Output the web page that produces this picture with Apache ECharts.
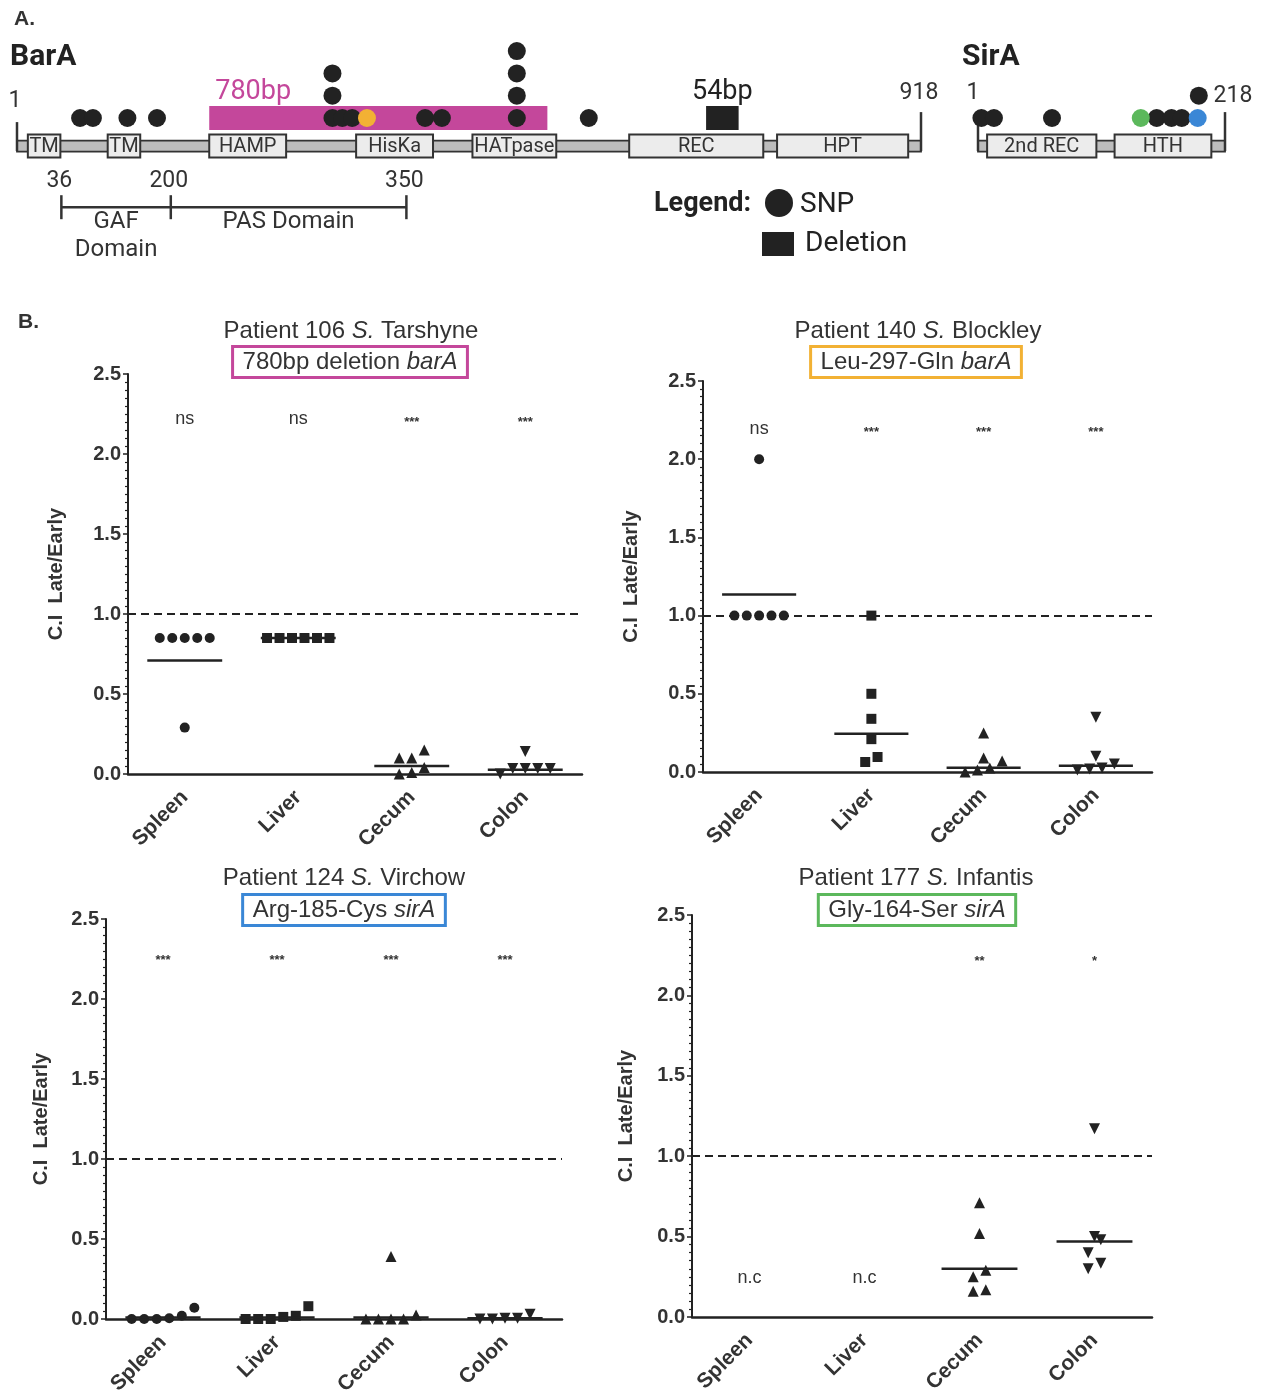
<!DOCTYPE html>
<html><head><meta charset="utf-8">
<script src="https://cdn.jsdelivr.net/npm/echarts@6/dist/echarts.min.js"></script>
<style>html,body{margin:0;padding:0;background:#fff}#c{width:1261px;height:1394px}</style>
</head><body><div id="c"></div>
<script>
// ================= Panel A data (schematic positions along each protein) =================
const barALength = 918;
const sirALength = 218;
const barABackbone = [[1, 918]];
const sirABackbone = [[1, 218]];
const barADomains = [[12, 45, 'TM'], [93, 126, 'TM'], [196, 274, 'HAMP'], [345, 423, 'HisKa'], [463, 548, 'HATpase'], [622, 758, 'REC'], [772, 905, 'HPT']];
const sirADomains = [[9, 105, '2nd REC'], [121, 206, 'HTH']];
// SNPs: [position, stack level]
const barASNPs = [[65, 0], [78, 0], [113, 0], [143, 0], [321, 0], [321, 1], [321, 2], [331, 0], [341, 0], [415, 0], [432, 0], [508, 0], [508, 1], [508, 2], [508, 3], [581, 0]];
const barASNP_Leu297Gln = [[356, 0]];
const sirASNPs = [[4, 0], [15, 0], [66, 0], [158, 0], [171, 0], [180, 0], [195, 1]];
const sirASNP_Gly164Ser = [[144, 0]];
const sirASNP_Arg185Cys = [[194, 0]];
const barADeletion780 = [[196, 539, '780bp']];
const barADeletion54 = [[700, 733, '54bp']];
const barABracketTicks = [[46, '36'], [157, '200'], [396, '350']];
const barABracketSpans = [[46, 157, 'GAF\nDomain'], [157, 396, 'PAS Domain']];

// ================= Panel B data =================
const organs = ['Spleen', 'Liver', 'Cecum', 'Colon'];
const yTicks = [0, 0.5, 1.0, 1.5, 2.0, 2.5];

const p106_spleen = [0.85, 0.85, 0.85, 0.85, 0.85, 0.29];
const p106_liver = [0.85, 0.85, 0.85, 0.85, 0.85, 0.85];
const p106_cecum = [0.10, 0.10, 0.15, 0.04, 0.00, 0.01];
const p106_colon = [0.035, 0.035, 0.00, 0.035, 0.035, 0.14];
const p106_mean = [0.71, 0.85, 0.05, 0.027];
const p106_sig = ['ns', 'ns', '***', '***'];

const p140_spleen = [1.0, 1.0, 1.0, 1.0, 1.0, 2.0];
const p140_liver = [1.0, 0.50, 0.34, 0.21, 0.096, 0.064];
const p140_cecum = [0.25, 0.09, 0.07, 0.026, 0.0, 0.013];
const p140_colon = [0.35, 0.10, 0.026, 0.013, 0.019, 0.051];
const p140_mean = [1.135, 0.245, 0.027, 0.04];
const p140_sig = ['ns', '***', '***', '***'];

const p124_spleen = [0.02, 0.0, 0.0, 0.0, 0.005, 0.07];
const p124_liver = [0.02, 0.0, 0.0, 0.0, 0.013, 0.08];
const p124_cecum = [0.025, 0.0, 0.0, 0.0, 0.0, 0.39];
const p124_colon = [0.03, 0.0, 0.0, 0.005, 0.005];
const p124_mean = [0.01, 0.01, 0.01, 0.005];
const p124_sig = ['***', '***', '***', '***'];

const p177_spleen = [];
const p177_liver = [];
const p177_cecum = [0.71, 0.52, 0.29, 0.25, 0.16, 0.17];
const p177_colon = [1.17, 0.50, 0.48, 0.40, 0.335, 0.30];
const p177_mean = [null, null, 0.30, 0.47];
const p177_sig = ['n.c', 'n.c', '**', '*'];

// ================= styling / layout =================
const FONT = '"Liberation Sans", Arial, sans-serif';
const AFONT = 'Roboto, "Liberation Sans", sans-serif';
const INK = '#222';
const TXT = '#333';
const MAGENTA = '#c4479b', ORANGE = '#f2b134', GREEN = '#5cb85c', BLUE = '#3a87d6';

const panels = [
  { grid: { left: 128, top: 374, width: 454, height: 400 }, groups: [p106_spleen, p106_liver, p106_cecum, p106_colon], mean: p106_mean, sig: p106_sig, sigY: [2.22, 2.22, 2.2, 2.2], nameGap: 62,
    t1: 'Patient 106 {i|S.} Tarshyne', t2: '780bp deletion {i|barA}', tx: 351, ty: 331, bx: 350, by: 362, color: MAGENTA },
  { grid: { left: 703, top: 381, width: 449, height: 391 }, groups: [p140_spleen, p140_liver, p140_cecum, p140_colon], mean: p140_mean, sig: p140_sig, sigY: [2.19, 2.17, 2.17, 2.17], nameGap: 62,
    t1: 'Patient 140 {i|S.} Blockley', t2: 'Leu-297-Gln {i|barA}', tx: 918, ty: 331, bx: 916, by: 362, color: ORANGE },
  { grid: { left: 106, top: 919, width: 456, height: 400 }, groups: [p124_spleen, p124_liver, p124_cecum, p124_colon], mean: p124_mean, sig: p124_sig, sigY: [2.24, 2.24, 2.24, 2.24], nameGap: 55,
    t1: 'Patient 124 {i|S.} Virchow', t2: 'Arg-185-Cys {i|sirA}', tx: 344, ty: 878, bx: 344, by: 910, color: BLUE },
  { grid: { left: 692, top: 915, width: 460, height: 402 }, groups: [p177_spleen, p177_liver, p177_cecum, p177_colon], mean: p177_mean, sig: p177_sig, sigY: [0.24, 0.24, 2.21, 2.21], nameGap: 56,
    t1: 'Patient 177 {i|S.} Infantis', t2: 'Gly-164-Ser {i|sirA}', tx: 916, ty: 878, bx: 917, by: 910, color: GREEN }
];

const symbols = [
  { symbol: 'circle', size: 10, rotate: 0 },
  { symbol: 'rect', size: 10, rotate: 0 },
  { symbol: 'triangle', size: 11, rotate: 0 },
  { symbol: 'triangle', size: 11, rotate: 180 }
];

// simple deterministic beeswarm: points with nearly equal values share a row, centered on the category
const ROW_TOL = 0.085, STEP = 0.11;
function swarm(vals, cat) {
  const idx = vals.map((v, i) => i).sort((a, b) => vals[a] - vals[b]);
  const rows = []; let cur = null;
  idx.forEach(i => {
    if (!cur || vals[i] - vals[cur[0]] > ROW_TOL) { cur = [i]; rows.push(cur); } else cur.push(i);
  });
  const out = [];
  rows.forEach(r => r.forEach((i, k) => out.push([cat + (k - (r.length - 1) / 2) * STEP, vals[i]])));
  return out;
}

const grids = [], xAxes = [], yAxes = [], series = [], graphics = [];

panels.forEach((p, pi) => {
  grids.push(Object.assign({ outerBoundsMode: 'none', containLabel: false }, p.grid));
  xAxes.push({
    type: 'category', gridIndex: pi, data: organs, boundaryGap: true,
    axisLine: { onZero: false, lineStyle: { color: INK, width: 2.5 } },
    axisTick: { alignWithLabel: true, length: 6, lineStyle: { color: INK, width: 2 } },
    axisLabel: { rotate: 45, margin: 20, color: TXT, fontFamily: FONT, fontWeight: 'bold', fontSize: 21 },
    splitLine: { show: false }
  });
  yAxes.push({
    type: 'value', gridIndex: pi, min: 0, max: 2.5, interval: 0.5,
    name: 'C.I  Late/Early', nameLocation: 'middle', nameRotate: 90, nameGap: p.nameGap,
    nameTextStyle: { color: TXT, fontFamily: FONT, fontWeight: 'bold', fontSize: 20 },
    axisLine: { show: true, onZero: false, lineStyle: { color: INK, width: 2 } },
    axisTick: { show: true, length: 5, lineStyle: { color: INK, width: 1.5 } },
    minorTick: { show: true, splitNumber: 10, length: 3, lineStyle: { color: INK, width: 1.2 } },
    axisLabel: { color: TXT, fontFamily: FONT, fontWeight: 'bold', fontSize: 20, margin: 7, formatter: v => yTicks.includes(v) ? v.toFixed(1) : '' },
    splitLine: { show: false }
  });
});
// hidden numeric x axes used for the jittered scatter points
panels.forEach((p, pi) => {
  xAxes.push({ type: 'value', gridIndex: pi, min: -0.5, max: 3.5, show: false, axisLine: { onZero: false } });
});

panels.forEach((p, pi) => {
  const xi = 4 + pi;
  series.push({
    type: 'scatter', xAxisIndex: xi, yAxisIndex: pi, data: [], silent: true,
    markLine: { symbol: 'none', silent: true, label: { show: false },
      lineStyle: { color: INK, width: 2, type: [8, 5] }, data: [{ yAxis: 1 }] }
  });
  p.groups.forEach((vals, gi) => {
    if (!vals.length) return;
    const s = symbols[gi];
    series.push({
      type: 'scatter', xAxisIndex: xi, yAxisIndex: pi, data: swarm(vals, gi),
      symbol: s.symbol, symbolSize: s.size, symbolRotate: s.rotate,
      itemStyle: { color: INK, opacity: 1 }, z: 4, silent: true
    });
  });
  series.push({
    type: 'custom', xAxisIndex: xi, yAxisIndex: pi, z: 5, silent: true,
    data: p.mean.map((m, i) => m == null ? null : [i, m]).filter(d => d),
    renderItem: (params, api) => {
      const c = api.value(0), v = api.value(1);
      const a = api.coord([c - 0.33, v]), b = api.coord([c + 0.33, v]);
      return { type: 'line', shape: { x1: a[0], y1: a[1], x2: b[0], y2: b[1] }, style: { stroke: INK, lineWidth: 2.5 } };
    }
  });
  series.push({
    type: 'custom', xAxisIndex: xi, yAxisIndex: pi, z: 5, silent: true,
    data: p.sig.map((t, i) => [i, p.sigY[i]]),
    renderItem: (params, api) => {
      const i = params.dataIndex;
      const t = p.sig[i];
      const pt = api.coord([api.value(0), api.value(1)]);
      const isStar = t.indexOf('*') >= 0;
      return { type: 'text', style: { text: t, x: pt[0], y: pt[1], textAlign: 'center', textVerticalAlign: 'middle',
        font: (isStar ? 'bold 13px ' : '18px ') + FONT, fill: TXT } };
    }
  });
  graphics.push({ type: 'text', silent: true, style: { text: p.t1, x: p.tx, y: p.ty, textAlign: 'center', textVerticalAlign: 'middle',
    font: '24px ' + FONT, fill: TXT, rich: { i: { fontStyle: 'italic', fontSize: 24, fontFamily: FONT, fill: TXT } } } });
  graphics.push({ type: 'text', silent: true, style: { text: p.t2, x: p.bx, y: p.by, textAlign: 'center', textVerticalAlign: 'middle',
    font: '24px ' + FONT, fill: TXT, borderColor: p.color, borderWidth: 3, padding: [4, 10, 3, 10],
    rich: { i: { fontStyle: 'italic', fontSize: 24, fontFamily: FONT, fill: TXT } } } });
});

// ================= Panel A: protein schematics =================
const BB_LEVEL = -1.26; // backbone row (SNP row = 0)
const aGrids = [
  { left: 17, top: 28.8, width: 904, height: 223, min: 1, max: barALength },
  { left: 978, top: 28.8, width: 247, height: 223, min: 1, max: sirALength }
];
aGrids.forEach((g, k) => {
  const gi = grids.length;
  grids.push({ outerBoundsMode: 'none', containLabel: false, left: g.left, top: g.top, width: g.width, height: g.height });
  xAxes.push({ type: 'value', gridIndex: gi, min: g.min, max: g.max, show: false });
  yAxes.push({ type: 'value', gridIndex: gi, min: -6, max: 4, show: false });
  g.xi = xAxes.length - 1; g.yi = yAxes.length - 1;
});

function backboneSeries(g, data, leftLabel, rightLabel) {
  return {
    type: 'custom', xAxisIndex: g.xi, yAxisIndex: g.yi, z: 1, silent: true, clip: false, data: data,
    renderItem: (params, api) => {
      const s = api.coord([api.value(0), BB_LEVEL]), e = api.coord([api.value(1), BB_LEVEL]);
      return { type: 'group', children: [
        { type: 'rect', shape: { x: s[0], y: s[1] - 5.5, width: e[0] - s[0], height: 11 }, style: { fill: '#bdbdbd', stroke: '#333', lineWidth: 1.8 } },
        { type: 'line', shape: { x1: s[0], y1: s[1] - leftLabel.line, x2: s[0], y2: s[1] + 5 }, style: { stroke: '#333', lineWidth: 2.5 } },
        { type: 'line', shape: { x1: e[0], y1: e[1] - 34, x2: e[0], y2: e[1] + 5 }, style: { stroke: '#333', lineWidth: 2.5 } },
        { type: 'text', style: { text: '1', x: s[0] + leftLabel.dx, y: s[1] + leftLabel.dy, textAlign: 'center', textVerticalAlign: 'middle', font: '23px ' + AFONT, fill: TXT } },
        { type: 'text', style: { text: String(api.value(1)), x: e[0] + rightLabel.dx, y: e[1] + rightLabel.dy, textAlign: 'center', textVerticalAlign: 'middle', font: '23px ' + AFONT, fill: TXT } }
      ] };
    }
  };
}
function domainSeries(g, domains) {
  return {
    type: 'custom', xAxisIndex: g.xi, yAxisIndex: g.yi, z: 2, silent: true, clip: false,
    data: domains.map(d => [d[0], d[1]]),
    renderItem: (params, api) => {
      const s = api.coord([api.value(0), BB_LEVEL]), e = api.coord([api.value(1), BB_LEVEL]);
      return { type: 'group', children: [
        { type: 'rect', shape: { x: s[0], y: s[1] - 11.5, width: e[0] - s[0], height: 23 }, style: { fill: '#ececec', stroke: '#333', lineWidth: 2 } },
        { type: 'text', style: { text: domains[params.dataIndex][2], x: (s[0] + e[0]) / 2, y: s[1] + 1, textAlign: 'center', textVerticalAlign: 'middle', font: '20px ' + AFONT, fill: TXT } }
      ] };
    }
  };
}
function deletionSeries(g, dels, color, labelDx, labelAlign) {
  return {
    type: 'custom', xAxisIndex: g.xi, yAxisIndex: g.yi, z: 2, silent: true, clip: false,
    data: dels.map(d => [d[0], d[1]]),
    renderItem: (params, api) => {
      const s = api.coord([api.value(0), 0]), e = api.coord([api.value(1), 0]);
      const lx = labelAlign === 'center' ? (s[0] + e[0]) / 2 : s[0] + labelDx;
      return { type: 'group', children: [
        { type: 'rect', shape: { x: s[0], y: s[1] - 12, width: e[0] - s[0], height: 24 }, style: { fill: color } },
        { type: 'text', style: { text: dels[params.dataIndex][2], x: lx, y: s[1] - 26, textAlign: labelAlign, textVerticalAlign: 'middle', font: '27px ' + AFONT, fill: color } }
      ] };
    }
  };
}
function snpSeries(g, data, color) {
  return { type: 'scatter', xAxisIndex: g.xi, yAxisIndex: g.yi, data: data, symbol: 'circle', symbolSize: 18, z: 3, silent: true,
    itemStyle: { color: color, opacity: 1 } };
}
const gB = aGrids[0], gS = aGrids[1];
series.push(backboneSeries(gB, barABackbone, { dx: -2, dy: -45, line: 24 }, { dx: -2, dy: -53 }));
series.push(backboneSeries(gS, sirABackbone, { dx: -5, dy: -53, line: 34 }, { dx: 8, dy: -50 }));
series.push(domainSeries(gB, barADomains));
series.push(domainSeries(gS, sirADomains));
series.push(deletionSeries(gB, barADeletion780, MAGENTA, 6, 'left'));
series.push(deletionSeries(gB, barADeletion54, INK, 0, 'center'));
series.push(snpSeries(gB, barASNPs, INK));
series.push(snpSeries(gB, barASNP_Leu297Gln, ORANGE));
series.push(snpSeries(gS, sirASNPs, INK));
series.push(snpSeries(gS, sirASNP_Gly164Ser, GREEN));
series.push(snpSeries(gS, sirASNP_Arg185Cys, BLUE));
series.push({
  type: 'custom', xAxisIndex: gB.xi, yAxisIndex: gB.yi, z: 2, silent: true, clip: false,
  data: barABracketTicks.map(d => [d[0], -4]),
  renderItem: (params, api) => {
    const p = api.coord([api.value(0), api.value(1)]);
    return { type: 'group', children: [
      { type: 'line', shape: { x1: p[0], y1: p[1] - 12, x2: p[0], y2: p[1] + 12 }, style: { stroke: '#333', lineWidth: 2.5 } },
      { type: 'text', style: { text: barABracketTicks[params.dataIndex][1], x: p[0] - 2, y: p[1] - 26, textAlign: 'center', textVerticalAlign: 'middle', font: '23px ' + AFONT, fill: TXT } }
    ] };
  }
});
series.push({
  type: 'custom', xAxisIndex: gB.xi, yAxisIndex: gB.yi, z: 2, silent: true, clip: false,
  data: barABracketSpans.map(d => [d[0], d[1], -4]),
  renderItem: (params, api) => {
    const a = api.coord([api.value(0), api.value(2)]), b = api.coord([api.value(1), api.value(2)]);
    return { type: 'group', children: [
      { type: 'line', shape: { x1: a[0], y1: a[1], x2: b[0], y2: b[1] }, style: { stroke: '#333', lineWidth: 2.5 } },
      { type: 'text', style: { text: barABracketSpans[params.dataIndex][2], x: (a[0] + b[0]) / 2, y: a[1] + 1, textAlign: 'center', textVerticalAlign: 'top', font: '24px ' + AFONT, fill: TXT, lineHeight: 28 } }
    ] };
  }
});

graphics.push(
  { type: 'text', silent: true, style: { text: 'A.', x: 14, y: 19, textVerticalAlign: 'middle', font: 'bold 21px ' + FONT, fill: TXT } },
  { type: 'text', silent: true, style: { text: 'B.', x: 18, y: 322, textVerticalAlign: 'middle', font: 'bold 21px ' + FONT, fill: TXT } },
  { type: 'text', silent: true, style: { text: 'BarA', x: 10, y: 57, textVerticalAlign: 'middle', font: 'bold 30px ' + AFONT, fill: INK } },
  { type: 'text', silent: true, style: { text: 'SirA', x: 962, y: 57, textVerticalAlign: 'middle', font: 'bold 30px ' + AFONT, fill: INK } },
  { type: 'text', silent: true, style: { text: 'Legend:', x: 654, y: 204, textVerticalAlign: 'middle', font: 'bold 27px ' + AFONT, fill: INK } },
  { type: 'circle', silent: true, shape: { cx: 779, cy: 203, r: 14 }, style: { fill: INK } },
  { type: 'text', silent: true, style: { text: 'SNP', x: 800, y: 205, textVerticalAlign: 'middle', font: '28px ' + AFONT, fill: INK } },
  { type: 'rect', silent: true, shape: { x: 762, y: 232, width: 32, height: 24 }, style: { fill: INK } },
  { type: 'text', silent: true, style: { text: 'Deletion', x: 805, y: 244, textVerticalAlign: 'middle', font: '28px ' + AFONT, fill: INK } }
);

const chart = echarts.init(document.getElementById('c'), null, { renderer: 'canvas' });
chart.setOption({
  backgroundColor: '#fff',
  animation: false,
  grid: grids,
  xAxis: xAxes,
  yAxis: yAxes,
  series: series,
  graphic: graphics
});
</script>
</body></html>
